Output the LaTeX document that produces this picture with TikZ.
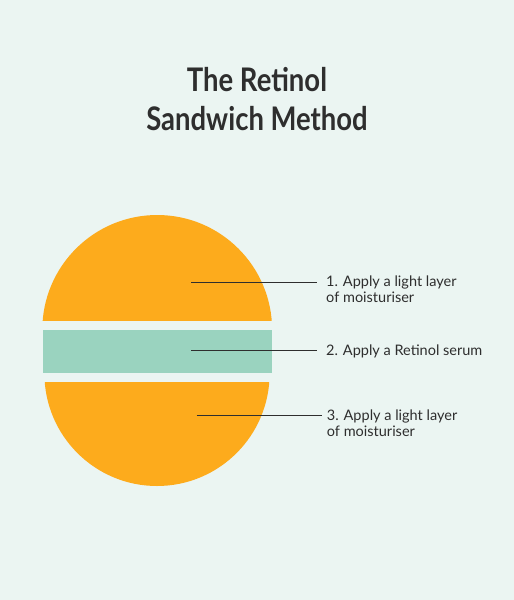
\documentclass[tikz,border=0pt]{standalone}
\usepackage{fontspec}
\setmainfont{Lato}
\newfontfamily\titlefont[FakeStretch=0.845]{Lato Bold}
\newfontfamily\labelfont{Lato}
\definecolor{bgmint}{HTML}{EBF5F2}
\definecolor{orng}{HTML}{FDAB1C}
\definecolor{tealb}{HTML}{9AD3BF}
\definecolor{ink}{HTML}{2E2E2E}
\tikzset{
  lbl/.style={anchor=base west, inner sep=0pt, align=left, text=ink, font=\labelfont\fontsize{14.5}{16}\selectfont},
  ttl/.style={anchor=base, inner sep=0pt, text=ink, font=\titlefont\fontsize{32.5}{38}\selectfont},
  leader/.style={draw=ink, line width=1pt}
}
\begin{document}
\begin{tikzpicture}[x=1pt,y=-1pt]
\fill[bgmint] (0,0) rectangle (514,600);
\useasboundingbox (0,0) rectangle (514,600);
% title
\node[ttl] (title1) at (257,91.7) {The Retinol};
\node[ttl] (title2) at (257,130) {Sandwich Method};
% top half
\begin{scope}
  \clip (0,0) rectangle (514,320.7);
  \fill[orng] (157.2,329.9) circle[radius=114.9];
\end{scope}
% band
\fill[tealb] (42.7,330) rectangle (271.7,372.7);
% bottom half
\begin{scope}
  \clip (0,382) rectangle (514,600);
  \fill[orng] (157,373.4) circle[radius=112.6];
\end{scope}
% labels (base anchor = baseline of last line)
\node[lbl] (t1) at (326,302.7) {1. Apply a light layer\\of moisturiser};
\node[lbl] (t2) at (326,355.3) {2. Apply a Retinol serum};
\node[lbl] (t3) at (326.7,436.3) {3. Apply a light layer\\of moisturiser};
\coordinate (a1) at (191,282);
\coordinate (b1) at (316.7,282);
\coordinate (a2) at (191,350.7);
\coordinate (b2) at (316.7,350.7);
\coordinate (a3) at (196.7,415.3);
\coordinate (b3) at (321.7,415.3);
\draw[leader] (a1) -- (b1);
\draw[leader] (a2) -- (b2);
\draw[leader] (a3) -- (b3);
\end{tikzpicture}
\end{document}
